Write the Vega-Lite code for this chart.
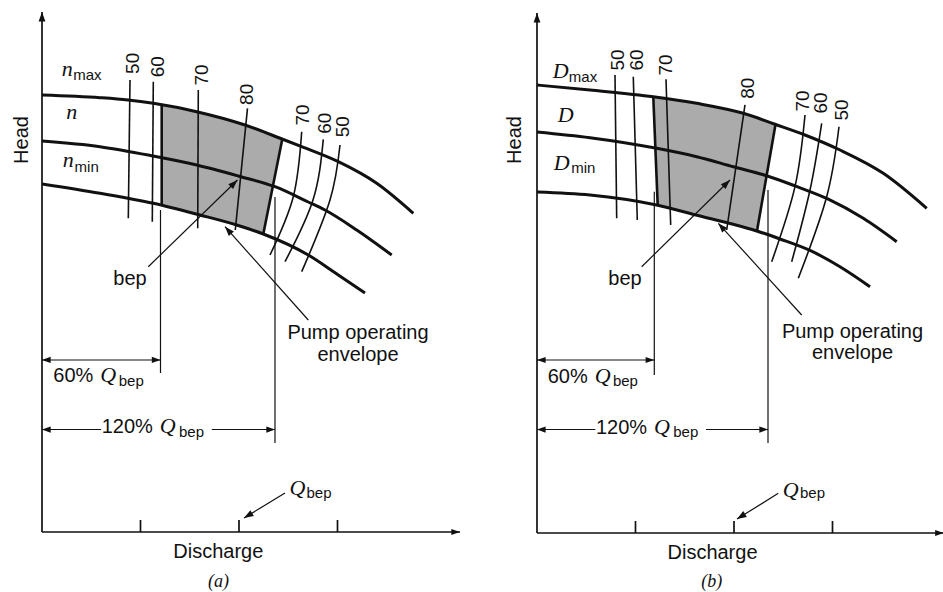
{
"$schema":"https://vega.github.io/schema/vega-lite/v6.json",
"padding":0,"spacing":0,"background":"white",
"config":{"view":{"stroke":null},"concat":{"spacing":0}},
"datasets":{
"curves":[
{"panel":"a","id":"nmax","k":0,"q":0,"h":84.04},{"panel":"a","id":"nmax","k":1,"q":29.44,"h":83.52},{"panel":"a","id":"nmax","k":2,"q":43.65,"h":83.08},{"panel":"a","id":"nmax","k":3,"q":56.5,"h":82.44},{"panel":"a","id":"nmax","k":4,"q":78.53,"h":80.83},{"panel":"a","id":"nmax","k":5,"q":103.05,"h":78.27},{"panel":"a","id":"nmax","k":6,"q":121.83,"h":75.58},{"panel":"a","id":"nmax","k":7,"q":131.83,"h":74.1},{"panel":"a","id":"nmax","k":8,"q":150.41,"h":71.21},{"panel":"a","id":"nmax","k":9,"q":169.9,"h":67.06},{"panel":"a","id":"nmax","k":10,"q":188.48,"h":61.29},
{"panel":"a","id":"n","k":0,"q":0,"h":75.19},{"panel":"a","id":"n","k":1,"q":29.44,"h":74.1},{"panel":"a","id":"n","k":2,"q":56.35,"h":72.31},{"panel":"a","id":"n","k":3,"q":78.53,"h":70.58},{"panel":"a","id":"n","k":4,"q":99.64,"h":68.46},{"panel":"a","id":"n","k":5,"q":118.27,"h":66.4},{"panel":"a","id":"n","k":6,"q":135.18,"h":63.46},{"panel":"a","id":"n","k":7,"q":143.65,"h":61.92},{"panel":"a","id":"n","k":8,"q":159.75,"h":58.08},{"panel":"a","id":"n","k":9,"q":177.51,"h":53.27},
{"panel":"a","id":"nmin","k":0,"q":0,"h":66.92},{"panel":"a","id":"nmin","k":1,"q":29.44,"h":65.13},{"panel":"a","id":"nmin","k":2,"q":56.5,"h":63.21},{"panel":"a","id":"nmin","k":3,"q":80.2,"h":60.96},{"panel":"a","id":"nmin","k":4,"q":98.83,"h":59.04},{"panel":"a","id":"nmin","k":5,"q":112.34,"h":57.31},{"panel":"a","id":"nmin","k":6,"q":135.18,"h":53.27},{"panel":"a","id":"nmin","k":7,"q":150.41,"h":49.42},{"panel":"a","id":"nmin","k":8,"q":163.96,"h":45.96},
{"panel":"b","id":"Dmax","k":0,"q":0,"h":86.15},{"panel":"b","id":"Dmax","k":1,"q":26.9,"h":85.19},{"panel":"b","id":"Dmax","k":2,"q":59.03,"h":83.9},{"panel":"b","id":"Dmax","k":3,"q":81.07,"h":82.63},{"panel":"b","id":"Dmax","k":4,"q":104.72,"h":80.71},{"panel":"b","id":"Dmax","k":5,"q":120.81,"h":78.6},{"panel":"b","id":"Dmax","k":6,"q":136.04,"h":76.54},{"panel":"b","id":"Dmax","k":7,"q":153.8,"h":73.65},{"panel":"b","id":"Dmax","k":8,"q":175.78,"h":69.17},{"panel":"b","id":"Dmax","k":9,"q":197.82,"h":62.44},
{"panel":"b","id":"D","k":0,"q":0,"h":77.12},{"panel":"b","id":"D","k":1,"q":26.9,"h":76.02},{"panel":"b","id":"D","k":2,"q":60.76,"h":73.98},{"panel":"b","id":"D","k":3,"q":81.07,"h":72.37},{"panel":"b","id":"D","k":4,"q":99.64,"h":70.44},{"panel":"b","id":"D","k":5,"q":116.6,"h":68.7},{"panel":"b","id":"D","k":6,"q":130.96,"h":66.75},{"panel":"b","id":"D","k":7,"q":147.87,"h":64.2},{"panel":"b","id":"D","k":8,"q":165.63,"h":60.52},{"panel":"b","id":"D","k":9,"q":182.59,"h":56.02},
{"panel":"b","id":"Dmin","k":0,"q":0,"h":65.58},{"panel":"b","id":"Dmin","k":1,"q":26.9,"h":65.0},{"panel":"b","id":"Dmin","k":2,"q":60.76,"h":63.08},{"panel":"b","id":"Dmin","k":3,"q":82.74,"h":60.96},{"panel":"b","id":"Dmin","k":4,"q":97.97,"h":59.52},{"panel":"b","id":"Dmin","k":5,"q":111.52,"h":58.08},{"panel":"b","id":"Dmin","k":6,"q":123.35,"h":56.54},{"panel":"b","id":"Dmin","k":7,"q":138.58,"h":54.33},{"panel":"b","id":"Dmin","k":8,"q":153.8,"h":51.21},{"panel":"b","id":"Dmin","k":9,"q":169.03,"h":47.37}
],
"eff":[
{"panel":"a","id":"50L","k":0,"q":44.67,"h":86.92},{"panel":"a","id":"50L","k":1,"q":43.81,"h":60.33},
{"panel":"a","id":"60L","k":0,"q":56.5,"h":86.6},{"panel":"a","id":"60L","k":1,"q":55.99,"h":59.67},
{"panel":"a","id":"70L","k":0,"q":79.34,"h":85.0},{"panel":"a","id":"70L","k":1,"q":79.04,"h":58.4},
{"panel":"a","id":"80","k":0,"q":104.31,"h":81.48},{"panel":"a","id":"80","k":1,"q":98.12,"h":58.08},
{"panel":"a","id":"70R","k":0,"q":131.83,"h":76.98},{"panel":"a","id":"70R","k":1,"q":127.56,"h":64.48},{"panel":"a","id":"70R","k":2,"q":115.74,"h":53.27},
{"panel":"a","id":"60R","k":0,"q":142.79,"h":75.52},{"panel":"a","id":"60R","k":1,"q":137.56,"h":63.85},{"panel":"a","id":"60R","k":2,"q":123.35,"h":51.98},
{"panel":"a","id":"50R","k":0,"q":151.27,"h":74.42},{"panel":"a","id":"50R","k":1,"q":146.19,"h":63.85},{"panel":"a","id":"50R","k":2,"q":131.83,"h":50.06},
{"panel":"b","id":"50L","k":0,"q":39.59,"h":88.08},{"panel":"b","id":"50L","k":1,"q":40.46,"h":60.52},
{"panel":"b","id":"60L","k":0,"q":48.88,"h":87.75},{"panel":"b","id":"60L","k":1,"q":50.91,"h":60.19},
{"panel":"b","id":"70L","k":0,"q":65.48,"h":87.25},{"panel":"b","id":"70L","k":1,"q":67.87,"h":59.23},
{"panel":"b","id":"80","k":0,"q":105.58,"h":82.31},{"panel":"b","id":"80","k":1,"q":96.29,"h":58.27},
{"panel":"b","id":"70R","k":0,"q":136.04,"h":80.38},{"panel":"b","id":"70R","k":1,"q":130.96,"h":66.6},{"panel":"b","id":"70R","k":2,"q":119.14,"h":52.17},
{"panel":"b","id":"60R","k":0,"q":144.51,"h":78.79},{"panel":"b","id":"60R","k":1,"q":138.58,"h":65.96},{"panel":"b","id":"60R","k":2,"q":129.29,"h":52.17},
{"panel":"b","id":"50R","k":0,"q":153.3,"h":78.13},{"panel":"b","id":"50R","k":1,"q":147.05,"h":64.67},{"panel":"b","id":"50R","k":2,"q":132.64,"h":48.98}
],
"shade":[
{"panel":"a","q":60.76,"h":82.13,"h2":62.81},{"panel":"a","q":70,"h":81.45,"h2":61.93},{"panel":"a","q":80.2,"h":80.66,"h2":60.96},{"panel":"a","q":90,"h":79.63,"h2":59.95},{"panel":"a","q":98.83,"h":78.71,"h2":59.04},{"panel":"a","q":103.05,"h":78.27,"h2":58.5},{"panel":"a","q":112.34,"h":76.94,"h2":57.31},{"panel":"a","q":117,"h":76.27,"h2":66.13},{"panel":"a","q":121.98,"h":75.56,"h2":75.56},
{"panel":"b","q":59.03,"h":83.9,"h2":83.9},{"panel":"b","q":61.27,"h":83.77,"h2":63.05},{"panel":"b","q":70,"h":83.27,"h2":62.19},{"panel":"b","q":82.74,"h":82.49,"h2":60.96},{"panel":"b","q":97.97,"h":81.26,"h2":59.52},{"panel":"b","q":104.72,"h":80.71,"h2":58.8},{"panel":"b","q":111.67,"h":79.8,"h2":58.07},{"panel":"b","q":116,"h":79.23,"h2":67.51},{"panel":"b","q":121.07,"h":78.56,"h2":78.56}
],
"edges":[
{"panel":"a","q":60.76,"h":82.13,"q2":60.76,"h2":62.81},{"panel":"a","q":121.98,"h":75.56,"q2":112.34,"h2":57.31},
{"panel":"b","q":59.03,"h":83.9,"q2":61.27,"h2":63.05},{"panel":"b","q":121.07,"h":78.56,"q2":111.67,"h2":58.07}
],
"segs":[
{"panel":"a","kind":"axis","q":0,"h":0,"q2":0,"h2":100},{"panel":"a","kind":"axis","q":0,"h":0,"q2":212.18,"h2":0},
{"panel":"a","kind":"axis","q":50,"h":0,"q2":50,"h2":2.31},{"panel":"a","kind":"axis","q":100,"h":0,"q2":100,"h2":2.31},{"panel":"a","kind":"axis","q":150,"h":0,"q2":150,"h2":2.31},
{"panel":"a","kind":"dim","q":60.15,"h":61.92,"q2":60.15,"h2":30.58},{"panel":"a","kind":"dim","q":0,"h":33.08,"q2":60.15,"h2":33.08},
{"panel":"a","kind":"dim","q":118.27,"h":64.42,"q2":118.27,"h2":17.12},{"panel":"a","kind":"dim","q":0,"h":19.71,"q2":30.0,"h2":19.71},{"panel":"a","kind":"dim","q":86.2,"h":19.71,"q2":118.27,"h2":19.71},
{"panel":"a","kind":"leader","q":53.96,"h":51.02,"q2":99.24,"h2":67.69},{"panel":"a","kind":"leader","q":135.18,"h":40.77,"q2":92.89,"h2":58.71},{"panel":"a","kind":"leader","q":123.35,"h":7.5,"q2":102.53,"h2":2.69},
{"panel":"b","kind":"axis","q":0,"h":0,"q2":0,"h2":100},{"panel":"b","kind":"axis","q":0,"h":0,"q2":206.5,"h2":0},
{"panel":"b","kind":"axis","q":50,"h":0,"q2":50,"h2":2.31},{"panel":"b","kind":"axis","q":100,"h":0,"q2":100,"h2":2.31},{"panel":"b","kind":"axis","q":150,"h":0,"q2":150,"h2":2.31},
{"panel":"b","kind":"dim","q":59.54,"h":65.63,"q2":59.54,"h2":30.38},{"panel":"b","kind":"dim","q":0,"h":33.27,"q2":59.54,"h2":33.27},
{"panel":"b","kind":"dim","q":117.26,"h":65.96,"q2":117.26,"h2":17.31},{"panel":"b","kind":"dim","q":0,"h":19.9,"q2":29.6,"h2":19.9},{"panel":"b","kind":"dim","q":85.8,"h":19.9,"q2":117.26,"h2":19.9},
{"panel":"b","kind":"leader","q":53.15,"h":51.21,"q2":97.97,"h2":67.88},{"panel":"b","kind":"leader","q":134.36,"h":41.92,"q2":92.03,"h2":59.56},{"panel":"b","kind":"leader","q":122.48,"h":7.63,"q2":101.52,"h2":2.69}
],
"heads":[
{"panel":"a","dir":"up","q":0,"h":100},{"panel":"a","dir":"right","q":212.18,"h":0},{"panel":"a","dir":"right","q":60.15,"h":33.08},{"panel":"a","dir":"right","q":118.27,"h":19.71},{"panel":"a","dir":"left","q":0,"h":33.08},{"panel":"a","dir":"left","q":0,"h":19.71},{"panel":"a","dir":"bep","q":99.24,"h":67.69},{"panel":"a","dir":"env","q":92.89,"h":58.71},{"panel":"a","dir":"qbep","q":102.53,"h":2.69},
{"panel":"b","dir":"up","q":0,"h":100},{"panel":"b","dir":"right","q":206.5,"h":0},{"panel":"b","dir":"right","q":59.54,"h":33.27},{"panel":"b","dir":"right","q":117.26,"h":19.9},{"panel":"b","dir":"left","q":0,"h":33.27},{"panel":"b","dir":"left","q":0,"h":19.9},{"panel":"b","dir":"bep","q":97.97,"h":67.88},{"panel":"b","dir":"env","q":92.03,"h":59.56},{"panel":"b","dir":"qbep","q":101.52,"h":2.69}
],
"labels":[
{"panel":"a","role":"sans","text":"bep","q":44.67,"h":47.5},{"panel":"a","role":"sans","text":"Pump operating","q":160.41,"h":37.02},{"panel":"a","role":"sans","text":"envelope","q":160.41,"h":32.88},{"panel":"a","role":"sans","text":"60%","q":15.89,"h":28.79},{"panel":"a","role":"sans","text":"120%","q":43.3,"h":18.98},{"panel":"a","role":"sans","text":"Discharge","q":89.49,"h":-5.0},
{"panel":"a","role":"head","text":"Head","q":-9.9,"h":75.38},
{"panel":"a","role":"num","text":"50","q":46.34,"h":90.13},{"panel":"a","role":"num","text":"60","q":59.03,"h":89.48},{"panel":"a","role":"num","text":"70","q":81.07,"h":87.88},{"panel":"a","role":"num","text":"80","q":103.91,"h":84.17},{"panel":"a","role":"num","text":"70","q":132.64,"h":80.19},{"panel":"a","role":"num","text":"60","q":143.65,"h":78.6},{"panel":"a","role":"num","text":"50","q":152.94,"h":77.94},
{"panel":"a","role":"ital","text":"n","q":12.84,"h":87.75},{"panel":"a","role":"ital","text":"n","q":15.08,"h":79.42},{"panel":"a","role":"ital","text":"n","q":13.35,"h":70.25},{"panel":"a","role":"ital","text":"Q","q":33.6,"h":28.79},{"panel":"a","role":"ital","text":"Q","q":63.8,"h":18.98},{"panel":"a","role":"ital","text":"Q","q":129.69,"h":7.12},
{"panel":"a","role":"sub","text":"max","q":23.0,"h":86.92},{"panel":"a","role":"sub","text":"min","q":22.69,"h":69.17},{"panel":"a","role":"sub","text":"bep","q":45.3,"h":28.13},{"panel":"a","role":"sub","text":"bep","q":75.9,"h":18.33},{"panel":"a","role":"sub","text":"bep","q":140.61,"h":6.54},
{"panel":"a","role":"cap","text":"(a)","q":89.59,"h":-10.58},
{"panel":"b","role":"sans","text":"bep","q":44.67,"h":47.69},{"panel":"b","role":"sans","text":"Pump operating","q":160.15,"h":37.5},{"panel":"b","role":"sans","text":"envelope","q":160.15,"h":33.37},{"panel":"b","role":"sans","text":"60%","q":15.6,"h":28.9},{"panel":"b","role":"sans","text":"120%","q":42.9,"h":19.1},{"panel":"b","role":"sans","text":"Discharge","q":89.09,"h":-5.0},
{"panel":"b","role":"head","text":"Head","q":-11.17,"h":75.58},
{"panel":"b","role":"num","text":"50","q":41.27,"h":90.96},{"panel":"b","role":"num","text":"60","q":50.61,"h":90.96},{"panel":"b","role":"num","text":"70","q":65.48,"h":90.0},{"panel":"b","role":"num","text":"80","q":107.26,"h":85.52},{"panel":"b","role":"num","text":"70","q":135.02,"h":83.08},{"panel":"b","role":"num","text":"60","q":144.41,"h":82.69},{"panel":"b","role":"num","text":"50","q":154.67,"h":81.35},
{"panel":"b","role":"ital","text":"D","q":12.03,"h":87.44},{"panel":"b","role":"ital","text":"D","q":14.57,"h":79.1},{"panel":"b","role":"ital","text":"D","q":12.54,"h":69.81},{"panel":"b","role":"ital","text":"Q","q":33.3,"h":28.9},{"panel":"b","role":"ital","text":"Q","q":63.4,"h":19.1},{"panel":"b","role":"ital","text":"Q","q":128.83,"h":6.98},
{"panel":"b","role":"sub","text":"max","q":23.35,"h":86.79},{"panel":"b","role":"sub","text":"min","q":23.5,"h":69.17},{"panel":"b","role":"sub","text":"bep","q":44.9,"h":28.25},{"panel":"b","role":"sub","text":"bep","q":75.5,"h":18.45},{"panel":"b","role":"sub","text":"bep","q":139.84,"h":6.67},
{"panel":"b","role":"cap","text":"(b)","q":88.68,"h":-10.33}
]
},
"hconcat":[
{
"width":471,"height":592,
"encoding":{
"x":{"field":"q","type":"quantitative","scale":{"domain":[-21.32,217.77],"nice":false,"zero":false},"axis":null},
"y":{"field":"h","type":"quantitative","scale":{"domain":[-11.538,102.308],"nice":false,"zero":false},"axis":null}
},
"layer":[
{"data":{"name":"shade"},"transform":[{"filter":"datum.panel == 'a'"}],"mark":{"type":"area","color":"#ababab","interpolate":"linear"},"encoding":{"y2":{"field":"h2"}}},
{"data":{"name":"eff"},"transform":[{"filter":"datum.panel == 'a'"}],"mark":{"type":"line","color":"#111","strokeWidth":1.6,"interpolate":"natural"},"encoding":{"detail":{"field":"id"},"order":{"field":"k"}}},
{"data":{"name":"curves"},"transform":[{"filter":"datum.panel == 'a'"}],"mark":{"type":"line","color":"#111","strokeWidth":3,"interpolate":"monotone"},"encoding":{"detail":{"field":"id"},"order":{"field":"k"}}},
{"data":{"name":"edges"},"transform":[{"filter":"datum.panel == 'a'"}],"mark":{"type":"rule","color":"#111","strokeWidth":2.6},"encoding":{"x2":{"field":"q2"},"y2":{"field":"h2"}}},
{"data":{"name":"segs"},"transform":[{"filter":"datum.panel == 'a' && datum.kind == 'axis'"}],"mark":{"type":"rule","color":"#111","strokeWidth":1.7},"encoding":{"x2":{"field":"q2"},"y2":{"field":"h2"}}},
{"data":{"name":"segs"},"transform":[{"filter":"datum.panel == 'a' && datum.kind != 'axis'"}],"mark":{"type":"rule","color":"#111","strokeWidth":1.2},"encoding":{"x2":{"field":"q2"},"y2":{"field":"h2"}}},
{"data":{"name":"heads"},"transform":[{"filter":"datum.panel == 'a' && datum.dir == 'up'"}],"mark":{"type":"point","filled":true,"color":"#111","opacity":1,"size":360,"angle":0,"shape":"M0,0L-0.36,1L0.36,1Z"}},
{"data":{"name":"heads"},"transform":[{"filter":"datum.panel == 'a' && datum.dir == 'right'"}],"mark":{"type":"point","filled":true,"color":"#111","opacity":1,"size":300,"angle":90,"shape":"M0,0L-0.36,1L0.36,1Z"}},
{"data":{"name":"heads"},"transform":[{"filter":"datum.panel == 'a' && datum.dir == 'left'"}],"mark":{"type":"point","filled":true,"color":"#111","opacity":1,"size":300,"angle":270,"shape":"M0,0L-0.36,1L0.36,1Z"}},
{"data":{"name":"heads"},"transform":[{"filter":"datum.panel == 'a' && datum.dir == 'bep'"}],"mark":{"type":"point","filled":true,"color":"#111","opacity":1,"size":360,"angle":46,"shape":"M0,0L-0.36,1L0.36,1Z"}},
{"data":{"name":"heads"},"transform":[{"filter":"datum.panel == 'a' && datum.dir == 'env'"}],"mark":{"type":"point","filled":true,"color":"#111","opacity":1,"size":360,"angle":318,"shape":"M0,0L-0.36,1L0.36,1Z"}},
{"data":{"name":"heads"},"transform":[{"filter":"datum.panel == 'a' && datum.dir == 'qbep'"}],"mark":{"type":"point","filled":true,"color":"#111","opacity":1,"size":360,"angle":239,"shape":"M0,0L-0.36,1L0.36,1Z"}},
{"data":{"name":"labels"},"transform":[{"filter":"datum.panel == 'a' && datum.role == 'sans'"}],"mark":{"type":"text","font":"Liberation Sans","fontSize":20,"align":"center","baseline":"alphabetic","color":"#111"},"encoding":{"text":{"field":"text"}}},
{"data":{"name":"labels"},"transform":[{"filter":"datum.panel == 'a' && datum.role == 'head'"}],"mark":{"type":"text","font":"Liberation Sans","fontSize":20,"angle":270,"align":"center","baseline":"middle","color":"#111"},"encoding":{"text":{"field":"text"}}},
{"data":{"name":"labels"},"transform":[{"filter":"datum.panel == 'a' && datum.role == 'num'"}],"mark":{"type":"text","font":"Liberation Sans","fontSize":19,"angle":270,"align":"center","baseline":"middle","color":"#111"},"encoding":{"text":{"field":"text"}}},
{"data":{"name":"labels"},"transform":[{"filter":"datum.panel == 'a' && datum.role == 'ital'"}],"mark":{"type":"text","font":"Liberation Serif","fontStyle":"italic","fontSize":22,"align":"center","baseline":"alphabetic","color":"#111"},"encoding":{"text":{"field":"text"}}},
{"data":{"name":"labels"},"transform":[{"filter":"datum.panel == 'a' && datum.role == 'sub'"}],"mark":{"type":"text","font":"Liberation Sans","fontSize":15,"align":"center","baseline":"alphabetic","color":"#111"},"encoding":{"text":{"field":"text"}}},
{"data":{"name":"labels"},"transform":[{"filter":"datum.panel == 'a' && datum.role == 'cap'"}],"mark":{"type":"text","font":"Liberation Serif","fontStyle":"italic","fontSize":18,"align":"center","baseline":"alphabetic","color":"#111"},"encoding":{"text":{"field":"text"}}}
]
},
{
"width":472,"height":592,
"encoding":{
"x":{"field":"q","type":"quantitative","scale":{"domain":[-33.5,206.09],"nice":false,"zero":false},"axis":null},
"y":{"field":"h","type":"quantitative","scale":{"domain":[-11.346,102.5],"nice":false,"zero":false},"axis":null}
},
"layer":[
{"data":{"name":"shade"},"transform":[{"filter":"datum.panel == 'b'"}],"mark":{"type":"area","color":"#ababab","interpolate":"linear"},"encoding":{"y2":{"field":"h2"}}},
{"data":{"name":"eff"},"transform":[{"filter":"datum.panel == 'b'"}],"mark":{"type":"line","color":"#111","strokeWidth":1.6,"interpolate":"natural"},"encoding":{"detail":{"field":"id"},"order":{"field":"k"}}},
{"data":{"name":"curves"},"transform":[{"filter":"datum.panel == 'b'"}],"mark":{"type":"line","color":"#111","strokeWidth":3,"interpolate":"monotone"},"encoding":{"detail":{"field":"id"},"order":{"field":"k"}}},
{"data":{"name":"edges"},"transform":[{"filter":"datum.panel == 'b'"}],"mark":{"type":"rule","color":"#111","strokeWidth":2.6},"encoding":{"x2":{"field":"q2"},"y2":{"field":"h2"}}},
{"data":{"name":"segs"},"transform":[{"filter":"datum.panel == 'b' && datum.kind == 'axis'"}],"mark":{"type":"rule","color":"#111","strokeWidth":1.7},"encoding":{"x2":{"field":"q2"},"y2":{"field":"h2"}}},
{"data":{"name":"segs"},"transform":[{"filter":"datum.panel == 'b' && datum.kind != 'axis'"}],"mark":{"type":"rule","color":"#111","strokeWidth":1.2},"encoding":{"x2":{"field":"q2"},"y2":{"field":"h2"}}},
{"data":{"name":"heads"},"transform":[{"filter":"datum.panel == 'b' && datum.dir == 'up'"}],"mark":{"type":"point","filled":true,"color":"#111","opacity":1,"size":360,"angle":0,"shape":"M0,0L-0.36,1L0.36,1Z"}},
{"data":{"name":"heads"},"transform":[{"filter":"datum.panel == 'b' && datum.dir == 'right'"}],"mark":{"type":"point","filled":true,"color":"#111","opacity":1,"size":300,"angle":90,"shape":"M0,0L-0.36,1L0.36,1Z"}},
{"data":{"name":"heads"},"transform":[{"filter":"datum.panel == 'b' && datum.dir == 'left'"}],"mark":{"type":"point","filled":true,"color":"#111","opacity":1,"size":300,"angle":270,"shape":"M0,0L-0.36,1L0.36,1Z"}},
{"data":{"name":"heads"},"transform":[{"filter":"datum.panel == 'b' && datum.dir == 'bep'"}],"mark":{"type":"point","filled":true,"color":"#111","opacity":1,"size":360,"angle":46,"shape":"M0,0L-0.36,1L0.36,1Z"}},
{"data":{"name":"heads"},"transform":[{"filter":"datum.panel == 'b' && datum.dir == 'env'"}],"mark":{"type":"point","filled":true,"color":"#111","opacity":1,"size":360,"angle":318,"shape":"M0,0L-0.36,1L0.36,1Z"}},
{"data":{"name":"heads"},"transform":[{"filter":"datum.panel == 'b' && datum.dir == 'qbep'"}],"mark":{"type":"point","filled":true,"color":"#111","opacity":1,"size":360,"angle":238,"shape":"M0,0L-0.36,1L0.36,1Z"}},
{"data":{"name":"labels"},"transform":[{"filter":"datum.panel == 'b' && datum.role == 'sans'"}],"mark":{"type":"text","font":"Liberation Sans","fontSize":20,"align":"center","baseline":"alphabetic","color":"#111"},"encoding":{"text":{"field":"text"}}},
{"data":{"name":"labels"},"transform":[{"filter":"datum.panel == 'b' && datum.role == 'head'"}],"mark":{"type":"text","font":"Liberation Sans","fontSize":20,"angle":270,"align":"center","baseline":"middle","color":"#111"},"encoding":{"text":{"field":"text"}}},
{"data":{"name":"labels"},"transform":[{"filter":"datum.panel == 'b' && datum.role == 'num'"}],"mark":{"type":"text","font":"Liberation Sans","fontSize":19,"angle":270,"align":"center","baseline":"middle","color":"#111"},"encoding":{"text":{"field":"text"}}},
{"data":{"name":"labels"},"transform":[{"filter":"datum.panel == 'b' && datum.role == 'ital'"}],"mark":{"type":"text","font":"Liberation Serif","fontStyle":"italic","fontSize":22,"align":"center","baseline":"alphabetic","color":"#111"},"encoding":{"text":{"field":"text"}}},
{"data":{"name":"labels"},"transform":[{"filter":"datum.panel == 'b' && datum.role == 'sub'"}],"mark":{"type":"text","font":"Liberation Sans","fontSize":15,"align":"center","baseline":"alphabetic","color":"#111"},"encoding":{"text":{"field":"text"}}},
{"data":{"name":"labels"},"transform":[{"filter":"datum.panel == 'b' && datum.role == 'cap'"}],"mark":{"type":"text","font":"Liberation Serif","fontStyle":"italic","fontSize":18,"align":"center","baseline":"alphabetic","color":"#111"},"encoding":{"text":{"field":"text"}}}
]
}
]
}
